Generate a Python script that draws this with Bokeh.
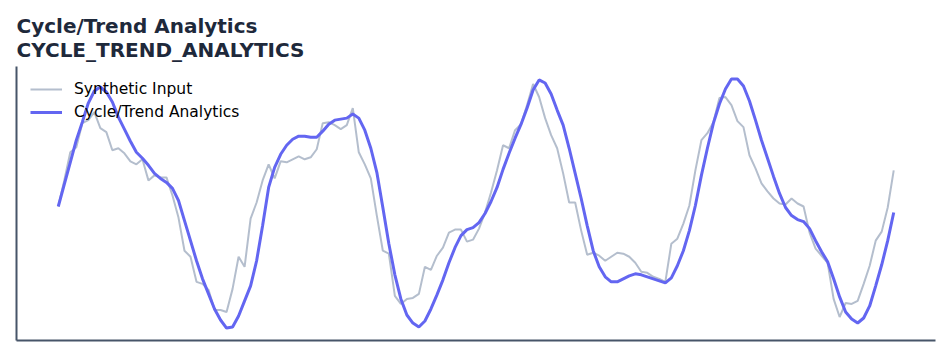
from bokeh.plotting import figure
from bokeh.models import Legend, LegendItem, ColumnDataSource, FixedTicker
from bokeh.embed import file_html
from bokeh.resources import INLINE

synthetic_input = [
    133, 159, 187, 192, 216, 219, 227, 211, 207, 189, 191, 186, 178, 175, 180, 159, 164, 162, 162, 144,
    122, 89, 83, 58, 56, 50, 30, 30, 28, 51, 83, 73, 121, 137, 159, 175, 161, 178, 177, 180,
    183, 180, 182, 190, 216, 217, 214, 210, 214, 231, 187, 175, 161, 124, 89, 86, 44, 36, 41, 42,
    46, 73, 70, 84, 92, 107, 110, 110, 98, 100, 111, 127, 147, 169, 194, 191, 209, 215, 234, 255,
    242, 221, 204, 191, 166, 137, 137, 109, 85, 87, 84, 79, 83, 87, 86, 83, 77, 68, 67, 63,
    61, 58, 96, 101, 116, 134, 169, 199, 206, 217, 241, 242, 234, 218, 212, 184, 171, 156, 148, 141,
    136, 135, 141, 136, 133, 107, 91, 84, 77, 41, 23, 37, 36, 39, 56, 74, 99, 108, 132, 169,
]
cycle_trend = [
    133, 155, 177, 199, 217, 236, 248, 252, 247, 237, 222, 210, 198, 187, 181, 174, 166, 161, 157, 151,
    139, 119, 99, 79, 61, 46, 31, 20, 12, 13, 24, 39, 54, 79, 114, 152, 172, 185, 194, 200,
    203, 203, 202, 202, 208, 215, 219, 220, 221, 225, 221, 209, 191, 167, 132, 96, 65, 41, 25, 17,
    13, 19, 31, 45, 60, 77, 92, 104, 110, 112, 117, 126, 138, 152, 170, 186, 201, 215, 231, 249,
    259, 256, 245, 229, 214, 191, 166, 141, 114, 89, 73, 63, 58, 58, 61, 64, 66, 65, 63, 61,
    59, 57, 62, 74, 89, 109, 134, 164, 191, 216, 235, 250, 260, 260, 253, 238, 219, 199, 181, 163,
    146, 132, 124, 120, 118, 111, 99, 88, 78, 61, 43, 28, 21, 17, 22, 34, 54, 75, 99, 127,
]
series_names = ["Synthetic Input", "Cycle/Trend Analytics"]

src_in = ColumnDataSource(dict(x=list(range(len(synthetic_input))), y=synthetic_input))
src_ct = ColumnDataSource(dict(x=list(range(len(cycle_trend))), y=cycle_trend))

p = figure(width=951, height=356, output_backend="svg", toolbar_location=None,
           title="Cycle/Trend Analytics\nCYCLE_TREND_ANALYTICS")
p.min_border_left = 16
p.min_border_right = 16
p.min_border_bottom = 16
p.min_border_top = 66

p.title.text_font = "DejaVu Sans"
p.title.text_font_style = "bold"
p.title.text_font_size = "20px"
p.title.text_color = "#1e293b"
p.title.offset = 0
p.title.standoff = 10

p.outline_line_color = None
p.background_fill_color = "white"
p.border_fill_color = "white"
p.xgrid.visible = False
p.ygrid.visible = False

for ax in (p.xaxis[0], p.yaxis[0]):
    ax.ticker = FixedTicker(ticks=[])
    ax.axis_line_color = "#475569"
    ax.axis_line_width = 2
    ax.major_tick_line_color = None
    ax.minor_tick_line_color = None
    ax.major_label_standoff = 0
    ax.major_tick_out = 0
    ax.major_tick_in = 0

r1 = p.line("x", "y", source=src_in, line_color="#94a3b8", line_alpha=0.7, line_width=2)
r2 = p.line("x", "y", source=src_ct, line_color="#6366f1", line_width=3)

legend = Legend(items=[LegendItem(label=series_names[0], renderers=[r1]),
                       LegendItem(label=series_names[1], renderers=[r2])],
                location="top_left")
legend.border_line_color = None
legend.background_fill_alpha = 0
legend.label_text_font = "DejaVu Sans"
legend.label_text_font_size = "15.5px"
legend.label_text_color = "black"
legend.glyph_width = 32
legend.glyph_height = 18
legend.label_height = 18
legend.label_standoff = 12
legend.spacing = 5
legend.margin = 14
legend.padding = 0
p.add_layout(legend)

open("out.html", "w").write(file_html(p, INLINE))
